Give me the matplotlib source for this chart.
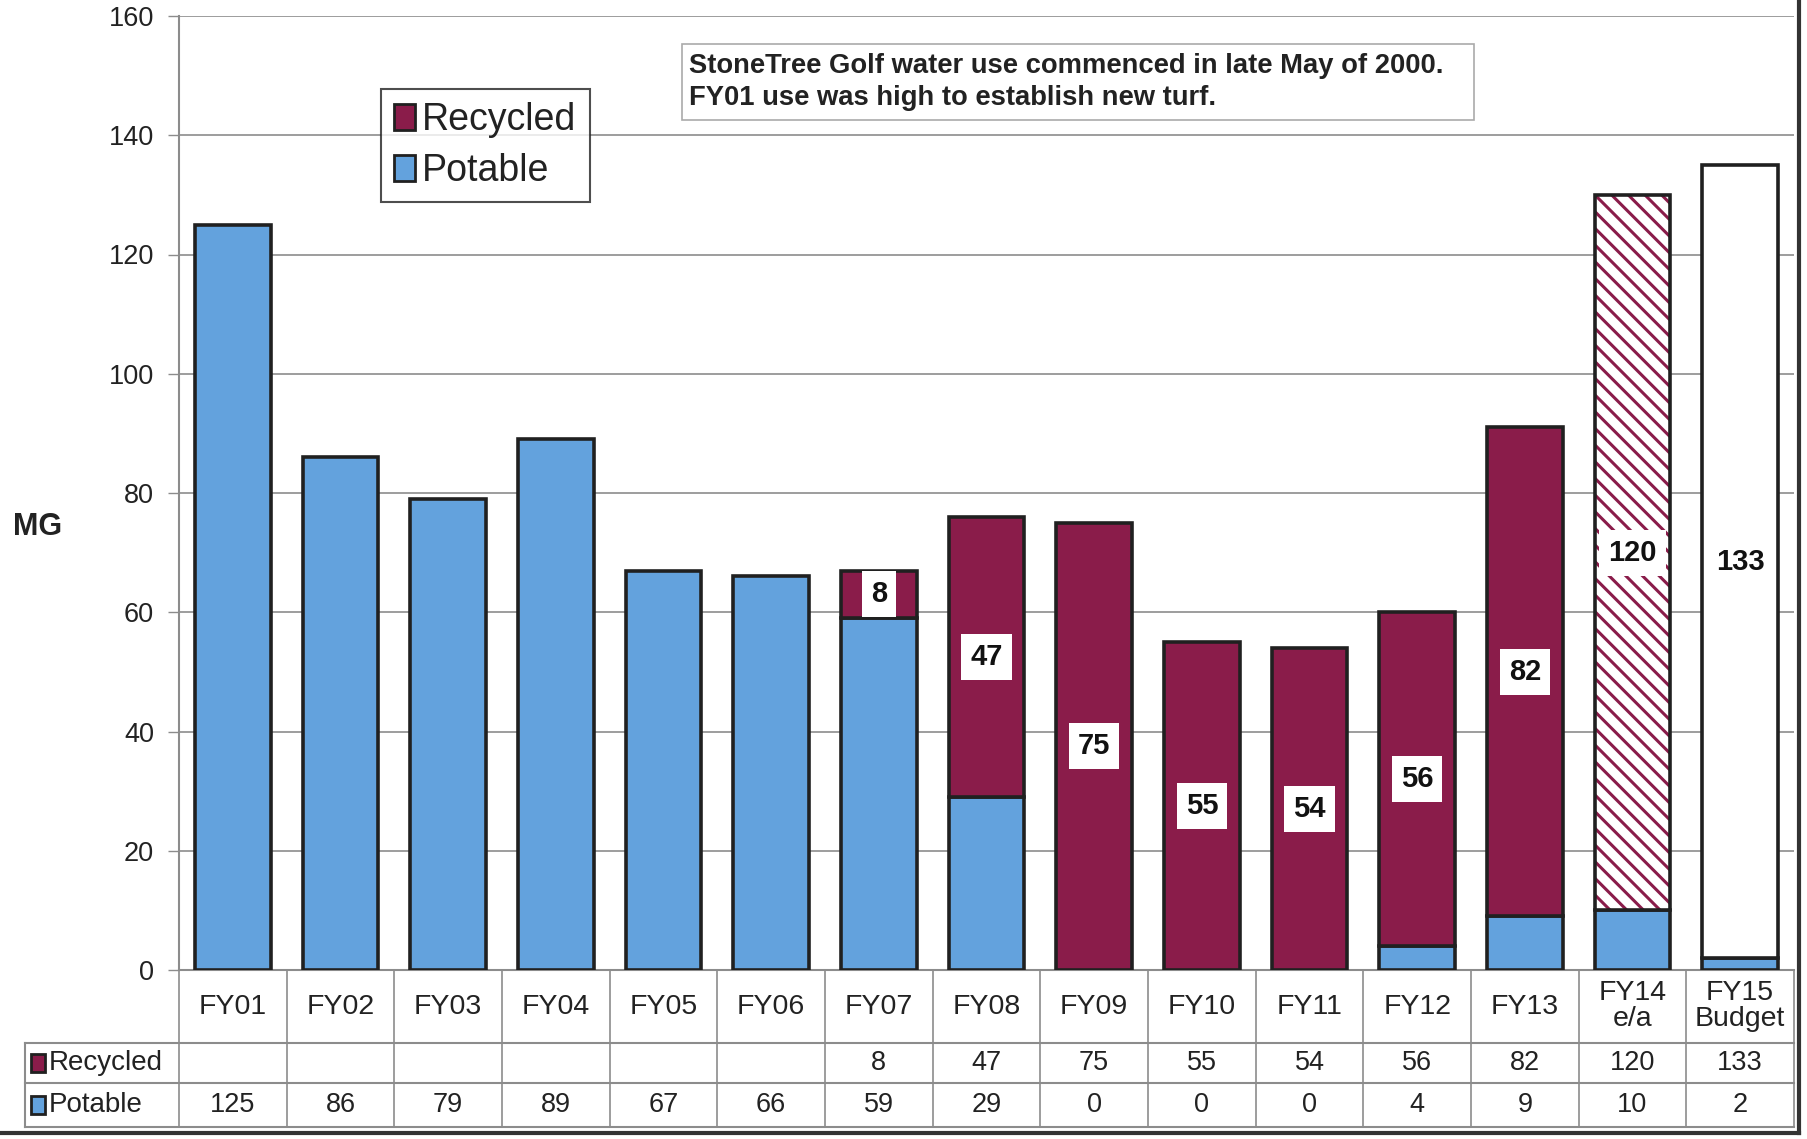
import numpy as np
import matplotlib
matplotlib.use("Agg")
import matplotlib.pyplot as plt
from matplotlib.patches import Patch, Rectangle
from matplotlib.lines import Line2D
from matplotlib.transforms import blended_transform_factory

plt.rcParams['font.family'] = ['Liberation Sans', 'DejaVu Sans']
plt.rcParams['hatch.linewidth'] = 2.2

# data (million gallons)
categories = ['FY01', 'FY02', 'FY03', 'FY04', 'FY05', 'FY06', 'FY07', 'FY08',
              'FY09', 'FY10', 'FY11', 'FY12', 'FY13', 'FY14\ne/a', 'FY15\nBudget']
recycled = [None, None, None, None, None, None, 8, 47, 75, 55, 54, 56, 82, 120, 133]
potable = [125, 86, 79, 89, 67, 66, 59, 29, 0, 0, 0, 4, 9, 10, 2]
yticks = [0, 20, 40, 60, 80, 100, 120, 140, 160]
note = "StoneTree Golf water use commenced in late May of 2000.\nFY01 use was high to establish new turf."

BLUE = '#63a2dd'
MAROON = '#8a1c4a'
DARK = '#202020'
GRID = '#8c8c8c'

W, H = 1807, 1139
fig = plt.figure(figsize=(W / 100, H / 100), dpi=100)
left, right, top, bottom = 179, 1794, 16, 970
ax = fig.add_axes([left / W, 1 - bottom / H, (right - left) / W, (bottom - top) / H])

x = np.arange(len(categories))
rec = np.array([v if v is not None else 0 for v in recycled], dtype=float)
pot = np.array(potable, dtype=float)
bw = 0.7

ax.bar(x, pot, bw, color=BLUE, edgecolor=DARK, linewidth=2.6, zorder=3)

for i in range(len(x)):
    if recycled[i] is None:
        continue
    if i == len(x) - 2:
        # estimate / actual: hatched
        ax.bar(x[i], rec[i], bw, bottom=pot[i], facecolor='white', edgecolor=MAROON,
               hatch='\\\\', linewidth=0, zorder=3)
        ax.bar(x[i], rec[i], bw, bottom=pot[i], facecolor='none', edgecolor=DARK,
               linewidth=2.6, zorder=4)
    elif i == len(x) - 1:
        ax.bar(x[i], rec[i], bw, bottom=pot[i], facecolor='white', edgecolor=DARK,
               linewidth=2.6, zorder=3)
    else:
        ax.bar(x[i], rec[i], bw, bottom=pot[i], color=MAROON, edgecolor=DARK,
               linewidth=2.6, zorder=3)
    ax.text(x[i], pot[i] + rec[i] / 2, str(recycled[i]), ha='center', va='center',
            fontsize=21, fontweight='bold', color='#111111', zorder=6,
            bbox=dict(facecolor='white', edgecolor='none', pad=6.5))

ax.set_xlim(-0.5, len(x) - 0.5)
ax.set_ylim(0, 160)
ax.set_yticks(yticks)
ax.tick_params(axis='y', labelsize=19.5, length=8, width=1, color=GRID, pad=10,
               labelcolor='#222222')
ax.set_xticks([])
ax.yaxis.grid(True, color=GRID, linewidth=1.2, zorder=0)
ax.set_axisbelow(True)
for s in ['right', 'top']:
    ax.spines[s].set_visible(False)
ax.spines['left'].set_color(GRID)
ax.spines['left'].set_linewidth(1.5)
ax.spines['bottom'].set_color(GRID)
ax.spines['bottom'].set_linewidth(1.5)

fig.text(38 / W, 1 - 527 / H, 'MG', fontsize=22, fontweight='bold', ha='center',
         va='center', color='#222222')

# data table under the chart
tr = blended_transform_factory(ax.transData, fig.transFigure)
fy = lambda py: 1 - py / H
row_cat = (970, 1043)
row_rec = (1043, 1083)
row_pot = (1083, 1127)
tab_left = 25 / W

for b in np.arange(-0.5, len(x), 1.0):
    fig.add_artist(Line2D([b, b], [fy(970), fy(1127)], transform=tr, color=GRID, lw=1.2))
for py in [1043, 1083, 1127]:
    fig.add_artist(Line2D([tab_left, right / W], [fy(py), fy(py)], transform=fig.transFigure,
                          color=GRID, lw=1.5))
fig.add_artist(Line2D([tab_left, tab_left], [fy(1043), fy(1127)], transform=fig.transFigure,
                      color=GRID, lw=1.5))

for i, c in enumerate(categories):
    fig.text(x[i], fy(sum(row_cat) / 2), c, transform=tr, ha='center', va='center',
             fontsize=20.5, color='#222222', linespacing=1.0)
    if recycled[i] is not None:
        fig.text(x[i], fy(sum(row_rec) / 2), str(recycled[i]), transform=tr, ha='center',
                 va='center', fontsize=19.5, color='#222222')
    fig.text(x[i], fy(sum(row_pot) / 2), str(potable[i]), transform=tr, ha='center',
             va='center', fontsize=19.5, color='#222222')

for (label, col, row) in [('Recycled', MAROON, row_rec), ('Potable', BLUE, row_pot)]:
    cy = sum(row) / 2
    fig.add_artist(Rectangle((31 / W, fy(cy + 9)), 14 / W, 18 / H, transform=fig.transFigure,
                             facecolor=col, edgecolor=DARK, lw=2))
    fig.text(49 / W, fy(cy), label, ha='left', va='center', fontsize=20, color='#222222')

# outer chart border (right and bottom)
fig.add_artist(Line2D([1799 / W, 1799 / W], [fy(0), fy(1133)], transform=fig.transFigure,
                      color='#333333', lw=3))
fig.add_artist(Line2D([0, 1799 / W], [fy(1133), fy(1133)], transform=fig.transFigure,
                      color='#333333', lw=3))

# legend
handles = [Patch(facecolor=MAROON, edgecolor=DARK, linewidth=2, label='Recycled'),
           Patch(facecolor=BLUE, edgecolor=DARK, linewidth=2, label='Potable')]
leg = fig.legend(handles=handles, loc='upper left', bbox_to_anchor=(381 / W, fy(89)),
                 fontsize=27, frameon=True, fancybox=False, handlelength=0.55,
                 handleheight=0.7, handletextpad=0.2, borderpad=0.35, labelspacing=0.4,
                 borderaxespad=0)
leg.get_frame().set_edgecolor('#222222')
leg.get_frame().set_linewidth(1.5)
for t in leg.get_texts():
    t.set_color('#222222')

# note box
fig.add_artist(Rectangle((682 / W, fy(120)), (1474 - 682) / W, (120 - 44) / H,
                         transform=fig.transFigure, facecolor='white', edgecolor='#aaaaaa',
                         lw=1.2, zorder=5))
fig.text(689 / W, fy(82), note, ha='left', va='center', fontsize=19.7, fontweight='bold',
         color='#222222', linespacing=1.3, zorder=6)

fig.savefig('out.png', dpi=100)
